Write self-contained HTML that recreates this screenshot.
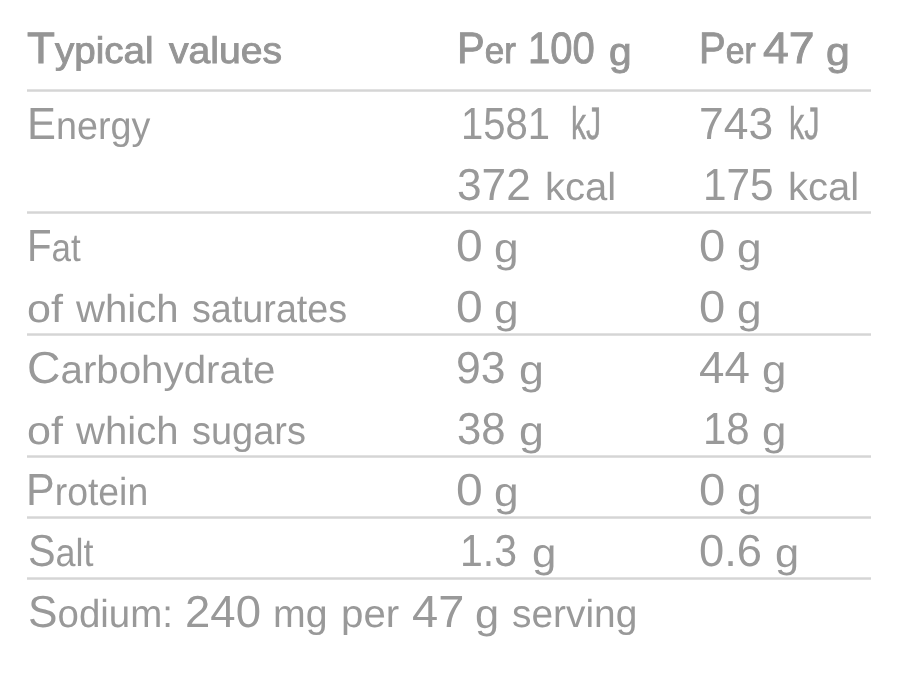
<!DOCTYPE html>
<html lang="en">
<head>
<meta charset="utf-8">
<title>Nutrition information</title>
<style>
html,body{margin:0;padding:0;background:#fff;}
body{width:900px;height:700px;position:relative;overflow:hidden;font-family:"Liberation Sans",sans-serif;}
.w{position:absolute;display:block;white-space:pre;line-height:50px;height:50px;transform-origin:0 0;text-rendering:geometricPrecision;}
.h{font-size:37.0px;color:#959595;-webkit-text-stroke:0.9px #959595;}
.h.d{font-size:43.9px;}
.h.c::first-letter{font-size:43.9px;line-height:0;}
.h.gg{font-size:39.2px;}
.b{font-size:39.0px;color:#999999;}
.b.d{font-size:44.9px;}
.b.c::first-letter{-webkit-text-stroke:0.5px #fff;}
.b.u{font-size:45.5px;-webkit-text-stroke:0.5px #999999;}
.b.c::first-letter{font-size:44.9px;line-height:0;}
.b.gg{font-size:40.8px;}
.ln{position:absolute;left:27px;width:844px;height:3px;background:linear-gradient(to bottom,#e1e1e1 0,#e1e1e1 1px,#d5d5d5 1px,#d5d5d5 2px,#dfdfdf 2px,#dfdfdf 3px);}
</style>
</head>
<body>
<div class="ln" style="top:89px"></div>
<div class="ln" style="top:211px"></div>
<div class="ln" style="top:333px"></div>
<div class="ln" style="top:455px"></div>
<div class="ln" style="top:516px"></div>
<div class="ln" style="top:577px"></div>
<span class="w h c" style="left:27.48px;top:26px;transform:scaleX(1.0420)">Typical</span>
<span class="w h" style="left:168.53px;top:26px;transform:scaleX(1.0582)">values</span>
<span class="w h c" style="left:456.92px;top:26px;transform:scaleX(0.9464)">Per</span>
<span class="w h d" style="left:527.67px;top:24px;transform:scaleX(0.9116)">100</span>
<span class="w h gg" style="left:609.10px;top:28px;transform:scaleX(1.0378)">g</span>
<span class="w h c" style="left:699.43px;top:26px;transform:scaleX(0.9123)">Per</span>
<span class="w h d" style="left:762.67px;top:24px;transform:scaleX(1.0559)">47</span>
<span class="w h gg" style="left:825.74px;top:28px;transform:scaleX(1.0919)">g</span>

<span class="w b c" style="left:26.97px;top:102px;transform:scaleX(0.9668)">Energy</span>
<span class="w b d" style="left:460.68px;top:99px;transform:scaleX(0.8912)">1581</span>
<span class="w b u" style="left:571.07px;top:99px;transform:scaleX(0.6642)">kJ</span>
<span class="w b d" style="left:698.87px;top:99px;transform:scaleX(0.9894)">743</span>
<span class="w b u" style="left:789.25px;top:99px;transform:scaleX(0.6717)">kJ</span>

<span class="w b d" style="left:457.17px;top:160px;transform:scaleX(0.9859)">372</span>
<span class="w b" style="left:545.23px;top:163px;transform:scaleX(1.0272)">kcal</span>
<span class="w b d" style="left:703.40px;top:160px;transform:scaleX(0.9424)">175</span>
<span class="w b" style="left:788.13px;top:163px;transform:scaleX(1.0272)">kcal</span>

<span class="w b c" style="left:26.84px;top:224px;transform:scaleX(0.8964)">Fat</span>
<span class="w b d" style="left:456.13px;top:221px;transform:scaleX(1.0698)">0</span>
<span class="w b gg" style="left:493.70px;top:223px;transform:scaleX(1.0849)">g</span>
<span class="w b d" style="left:699.16px;top:221px;transform:scaleX(1.0512)">0</span>
<span class="w b gg" style="left:736.70px;top:223px;transform:scaleX(1.0849)">g</span>

<span class="w b" style="left:27.07px;top:285px;transform:scaleX(1.1057)">of</span>
<span class="w b" style="left:76.00px;top:285px;transform:scaleX(1.0283)">which</span>
<span class="w b" style="left:191.79px;top:285px;transform:scaleX(0.9674)">saturates</span>
<span class="w b d" style="left:456.13px;top:282px;transform:scaleX(1.0698)">0</span>
<span class="w b gg" style="left:493.70px;top:284px;transform:scaleX(1.0849)">g</span>
<span class="w b d" style="left:699.16px;top:282px;transform:scaleX(1.0512)">0</span>
<span class="w b gg" style="left:736.70px;top:284px;transform:scaleX(1.0849)">g</span>

<span class="w b c" style="left:26.68px;top:346px;transform:scaleX(1.0330)">Carbohydrate</span>
<span class="w b d" style="left:456.02px;top:343px;transform:scaleX(0.9913)">93</span>
<span class="w b gg" style="left:519.08px;top:345px;transform:scaleX(1.0959)">g</span>
<span class="w b d" style="left:698.98px;top:343px;transform:scaleX(1.0189)">44</span>
<span class="w b gg" style="left:762.12px;top:345px;transform:scaleX(1.0740)">g</span>

<span class="w b" style="left:27.07px;top:407px;transform:scaleX(1.1057)">of</span>
<span class="w b" style="left:76.00px;top:407px;transform:scaleX(1.0283)">which</span>
<span class="w b" style="left:192.08px;top:407px;transform:scaleX(0.9729)">sugars</span>
<span class="w b d" style="left:457.30px;top:404px;transform:scaleX(0.9730)">38</span>
<span class="w b gg" style="left:519.08px;top:406px;transform:scaleX(1.0959)">g</span>
<span class="w b d" style="left:702.73px;top:404px;transform:scaleX(0.9348)">18</span>
<span class="w b gg" style="left:762.12px;top:406px;transform:scaleX(1.0740)">g</span>

<span class="w b c" style="left:26.41px;top:468px;transform:scaleX(0.9584)">Protein</span>
<span class="w b d" style="left:456.13px;top:465px;transform:scaleX(1.0698)">0</span>
<span class="w b gg" style="left:493.70px;top:467px;transform:scaleX(1.0849)">g</span>
<span class="w b d" style="left:699.16px;top:465px;transform:scaleX(1.0512)">0</span>
<span class="w b gg" style="left:736.70px;top:467px;transform:scaleX(1.0849)">g</span>

<span class="w b c" style="left:28.16px;top:529px;transform:scaleX(0.9207)">Salt</span>
<span class="w b d" style="left:460.41px;top:526px;transform:scaleX(0.9123)">1.3</span>
<span class="w b gg" style="left:532.12px;top:528px;transform:scaleX(1.0740)">g</span>
<span class="w b d" style="left:699.23px;top:526px;transform:scaleX(1.0111)">0.6</span>
<span class="w b gg" style="left:775.14px;top:528px;transform:scaleX(1.0630)">g</span>

<span class="w b c" style="left:27.63px;top:590px;transform:scaleX(0.9852)">Sodium:</span>
<span class="w b d" style="left:185.32px;top:587px;transform:scaleX(1.0141)">240</span>
<span class="w b" style="left:273.48px;top:590px;transform:scaleX(1.0071)">mg</span>
<span class="w b" style="left:341.42px;top:590px;transform:scaleX(1.0329)">per</span>
<span class="w b d" style="left:411.95px;top:587px;transform:scaleX(1.0481)">47</span>
<span class="w b gg" style="left:474.74px;top:589px;transform:scaleX(1.0630)">g</span>
<span class="w b" style="left:511.75px;top:590px;transform:scaleX(0.9967)">serving</span>
</body>
</html>
